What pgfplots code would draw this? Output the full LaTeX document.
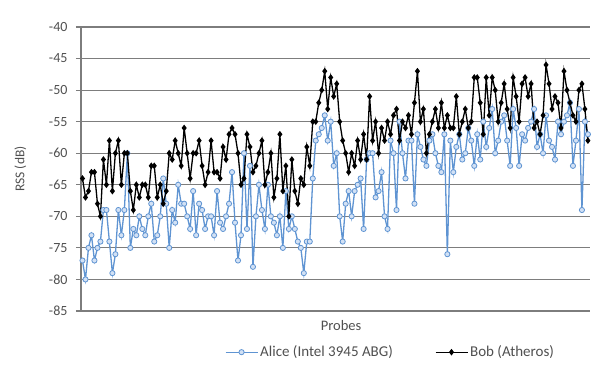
\documentclass[border=0pt]{standalone}
\usepackage{pgfplots}
\pgfplotsset{compat=1.18}
\usepackage{pgfplotstable}
\usepackage{fontspec}
\setmainfont{Carlito}
\definecolor{txt}{RGB}{80,80,80}
\definecolor{gridc}{RGB}{125,125,125}
\definecolor{alice}{RGB}{95,148,210}
\definecolor{alicefill}{RGB}{210,225,245}

\pgfplotstableread{
y
-77
-80
-75
-73
-77
-75
-74
-69
-69
-74
-79
-76
-69
-73
-69
-60
-75
-72
-73
-70
-72
-73
-70
-68
-74
-73
-70
-64
-68
-75
-69
-71
-65
-68
-68
-70
-72
-66
-73
-68
-69
-72
-70
-70
-73
-66
-71
-72
-70
-68
-63
-71
-77
-73
-60
-72
-62
-78
-70
-65
-69
-72
-65
-70
-71
-73
-70
-75
-66
-72
-70
-72
-74
-75
-79
-74
-74
-64
-58
-57
-56
-54
-58
-55
-62
-60
-70
-74
-68
-66
-70
-66
-65
-64
-72
-61
-60
-60
-67
-66
-63
-70
-72
-58
-60
-69
-55
-60
-64
-58
-58
-68
-57
-59
-61
-62
-58
-57
-60
-62
-63
-57
-76
-58
-63
-59
-57
-61
-60
-56
-58
-62
-57
-61
-55
-59
-56
-53
-60
-58
-55
-54
-58
-62
-53
-56
-62
-57
-58
-56
-55
-53
-59
-57
-60
-54
-58
-59
-61
-55
-57
-55
-54
-52
-62
-58
-53
-69
-55
-57
}\alicedata

\pgfplotstableread{
y
-64
-67
-66
-63
-63
-68
-70
-61
-65
-58
-66
-60
-58
-65
-60
-60
-66
-69
-65
-67
-65
-65
-67
-62
-62
-67
-65
-68
-66
-60
-61
-58
-60
-62
-56
-60
-64
-60
-60
-58
-62
-65
-63
-58
-63
-63
-64
-59
-61
-57
-56
-57
-60
-65
-64
-57
-59
-63
-62
-60
-58
-65
-63
-60
-67
-64
-57
-66
-62
-70
-61
-66
-68
-64
-65
-59
-62
-55
-55
-52
-50
-47
-53
-48
-51
-49
-55
-58
-60
-63
-60
-62
-58
-61
-57
-61
-51
-58
-55
-60
-56
-58
-55
-57
-54
-53
-58
-55
-56
-54
-57
-52
-47
-55
-53
-60
-57
-55
-53
-56
-52
-56
-54
-56
-56
-51
-57
-55
-53
-56
-55
-48
-48
-52
-57
-48
-54
-48
-50
-55
-52
-49
-53
-56
-48
-51
-55
-49
-48
-51
-49
-56
-55
-57
-54
-46
-49
-53
-51
-52
-56
-47
-50
-52
-54
-55
-50
-49
-53
-58
}\bobdata

\begin{document}
\begin{tikzpicture}
\begin{axis}[
  scale only axis,
  width=509pt, height=284pt,
  xmin=-0.5, xmax=169.7,
  ymin=-85, ymax=-40,
  ytick={-85,-80,...,-40},
  xtick=\empty,
  axis x line=bottom, axis y line=left,
  axis line style={gridc, line width=1.1pt, -},
  ymajorgrids,
  grid style={gridc, line width=1.1pt},
  tick align=outside,
  major tick length=5pt,
  ytick style={gridc, line width=1.1pt},
  tick label style={font=\fontsize{14}{16}\selectfont, text=txt},
  /pgf/number format/assume math mode=true,
  yticklabel style={xshift=-5pt},
  ylabel={RSS (dB)},
  xlabel={Probes},
  every axis y label/.style={at={(axis description cs:-0.119,0.5)}, rotate=90, anchor=center,
    font=\fontsize{13.5}{16}\selectfont, text=txt},
  every axis x label/.style={at={(axis description cs:0.511,0)}, yshift=-15pt, anchor=center,
    font=\fontsize{14.5}{16}\selectfont, text=txt},
  legend style={at={(axis description cs:0.608,-0.145)}, anchor=center, draw=none,
    font=\fontsize{15}{17}\selectfont, text=txt,
    /tikz/every even column/.append style={column sep=40pt},
    /tikz/every odd column/.append style={inner xsep=1pt}},
  legend columns=2,
  legend image code/.code={
    \draw[#1, mark repeat=2, mark phase=2] plot coordinates {(0pt,0pt) (16pt,0pt) (32pt,0pt)};
  },
]
\coordinate (bl) at (rel axis cs:0,0);
\coordinate (tr) at (rel axis cs:1,1);
\addplot[alice, line width=1.3pt, mark=*, mark size=2.6pt,
  mark options={draw=alice, fill=alicefill, line width=0.8pt}]
  table[x expr=\coordindex, y index=0] {\alicedata};
\addlegendentry{Alice (Intel 3945 ABG)}
\addplot[black, line width=1.3pt, mark=diamond*, mark size=2.3pt,
  mark options={fill=black}]
  table[x expr=\coordindex, y index=0] {\bobdata};
\addlegendentry{Bob (Atheros)}
\end{axis}
\pgfresetboundingbox
\path[use as bounding box] ([xshift=-81pt,yshift=-54pt]bl) rectangle ([xshift=4pt,yshift=27pt]tr);
\end{tikzpicture}
\end{document}
